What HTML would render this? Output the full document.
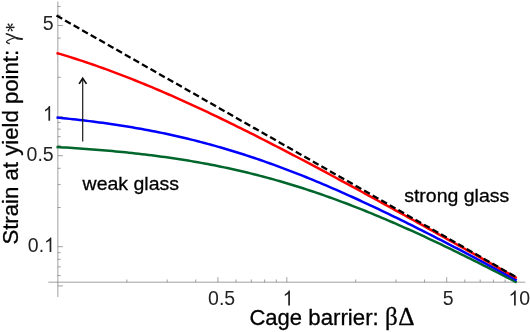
<!DOCTYPE html>
<html><head><meta charset="utf-8"><title>plot</title>
<style>html,body{margin:0;padding:0;background:#fff;}body{width:530px;height:332px;overflow:hidden;font-family:"Liberation Sans",sans-serif;}svg{display:block;will-change:transform;}text{font-family:"Liberation Sans",sans-serif;fill:#222;}.s{font-family:"Liberation Serif",serif;}.b{fill:#000;stroke:#000;stroke-width:0.3px;}</style>
</head><body>
<svg width="530" height="332" viewBox="0 0 530 332">
<g stroke="#666" stroke-width="0.62" fill="none">
<line x1="57.85" y1="1.5" x2="57.85" y2="297.0"/>
<line x1="48.3" y1="282.2" x2="525.3" y2="282.2"/>
<line x1="217.92" y1="277.2" x2="217.92" y2="282.2"/>
<line x1="286.80" y1="277.2" x2="286.80" y2="282.2"/>
<line x1="446.72" y1="277.2" x2="446.72" y2="282.2"/>
<line x1="515.60" y1="277.2" x2="515.60" y2="282.2"/>
<line x1="126.88" y1="279.5" x2="126.88" y2="282.2"/>
<line x1="167.17" y1="279.5" x2="167.17" y2="282.2"/>
<line x1="195.75" y1="279.5" x2="195.75" y2="282.2"/>
<line x1="236.04" y1="279.5" x2="236.04" y2="282.2"/>
<line x1="251.36" y1="279.5" x2="251.36" y2="282.2"/>
<line x1="264.63" y1="279.5" x2="264.63" y2="282.2"/>
<line x1="276.33" y1="279.5" x2="276.33" y2="282.2"/>
<line x1="355.68" y1="279.5" x2="355.68" y2="282.2"/>
<line x1="395.97" y1="279.5" x2="395.97" y2="282.2"/>
<line x1="424.55" y1="279.5" x2="424.55" y2="282.2"/>
<line x1="464.84" y1="279.5" x2="464.84" y2="282.2"/>
<line x1="480.16" y1="279.5" x2="480.16" y2="282.2"/>
<line x1="493.43" y1="279.5" x2="493.43" y2="282.2"/>
<line x1="505.13" y1="279.5" x2="505.13" y2="282.2"/>
<line x1="57.85" y1="25.49" x2="62.9" y2="25.49"/>
<line x1="57.85" y1="116.50" x2="62.9" y2="116.50"/>
<line x1="57.85" y1="155.69" x2="62.9" y2="155.69"/>
<line x1="57.85" y1="246.70" x2="62.9" y2="246.70"/>
<line x1="57.85" y1="285.89" x2="62.9" y2="285.89"/>
<line x1="57.85" y1="6.47" x2="60.7" y2="6.47"/>
<line x1="57.85" y1="15.18" x2="60.7" y2="15.18"/>
<line x1="57.85" y1="38.11" x2="60.7" y2="38.11"/>
<line x1="57.85" y1="54.38" x2="60.7" y2="54.38"/>
<line x1="57.85" y1="77.31" x2="60.7" y2="77.31"/>
<line x1="57.85" y1="122.46" x2="60.7" y2="122.46"/>
<line x1="57.85" y1="129.12" x2="60.7" y2="129.12"/>
<line x1="57.85" y1="136.67" x2="60.7" y2="136.67"/>
<line x1="57.85" y1="145.38" x2="60.7" y2="145.38"/>
<line x1="57.85" y1="168.31" x2="60.7" y2="168.31"/>
<line x1="57.85" y1="184.58" x2="60.7" y2="184.58"/>
<line x1="57.85" y1="207.51" x2="60.7" y2="207.51"/>
<line x1="57.85" y1="252.66" x2="60.7" y2="252.66"/>
<line x1="57.85" y1="259.32" x2="60.7" y2="259.32"/>
<line x1="57.85" y1="266.87" x2="60.7" y2="266.87"/>
<line x1="57.85" y1="275.58" x2="60.7" y2="275.58"/>
</g>
<g fill="none" stroke-width="2.5" stroke-linejoin="round">
<path d="M56.50,147.03 L59.79,147.21 L63.07,147.41 L66.36,147.61 L69.65,147.81 L72.94,148.02 L76.22,148.24 L79.51,148.46 L82.80,148.69 L86.08,148.93 L89.37,149.18 L92.66,149.43 L95.95,149.68 L99.23,149.95 L102.52,150.22 L105.81,150.50 L109.09,150.79 L112.38,151.09 L115.67,151.39 L118.96,151.71 L122.24,152.03 L125.53,152.36 L128.82,152.70 L132.10,153.05 L135.39,153.41 L138.68,153.78 L141.97,154.15 L145.25,154.54 L148.54,154.94 L151.83,155.35 L155.11,155.77 L158.40,156.20 L161.69,156.64 L164.98,157.09 L168.26,157.56 L171.55,158.03 L174.84,158.52 L178.12,159.02 L181.41,159.53 L184.70,160.05 L187.99,160.59 L191.27,161.14 L194.56,161.70 L197.85,162.28 L201.13,162.86 L204.42,163.47 L207.71,164.08 L211.00,164.71 L214.28,165.35 L217.57,166.01 L220.86,166.68 L224.14,167.36 L227.43,168.06 L230.72,168.78 L234.01,169.50 L237.29,170.25 L240.58,171.01 L243.87,171.78 L247.15,172.57 L250.44,173.37 L253.73,174.19 L257.02,175.02 L260.30,175.87 L263.59,176.73 L266.88,177.61 L270.16,178.51 L273.45,179.42 L276.74,180.34 L280.03,181.28 L283.31,182.24 L286.60,183.21 L289.89,184.20 L293.17,185.20 L296.46,186.22 L299.75,187.25 L303.04,188.30 L306.32,189.37 L309.61,190.44 L312.90,191.54 L316.18,192.65 L319.47,193.77 L322.76,194.91 L326.05,196.06 L329.33,197.23 L332.62,198.41 L335.91,199.61 L339.19,200.82 L342.48,202.05 L345.77,203.28 L349.06,204.54 L352.34,205.80 L355.63,207.08 L358.92,208.37 L362.20,209.68 L365.49,211.00 L368.78,212.33 L372.07,213.67 L375.35,215.03 L378.64,216.40 L381.93,217.78 L385.21,219.17 L388.50,220.58 L391.79,221.99 L395.08,223.42 L398.36,224.86 L401.65,226.31 L404.94,227.77 L408.22,229.24 L411.51,230.72 L414.80,232.21 L418.09,233.71 L421.37,235.22 L424.66,236.74 L427.95,238.27 L431.23,239.81 L434.52,241.36 L437.81,242.91 L441.10,244.48 L444.38,246.05 L447.67,247.63 L450.96,249.22 L454.24,250.82 L457.53,252.42 L460.82,254.03 L464.11,255.65 L467.39,257.28 L470.68,258.91 L473.97,260.55 L477.25,262.20 L480.54,263.85 L483.83,265.51 L487.12,267.18 L490.40,268.85 L493.69,270.52 L496.98,272.21 L500.26,273.90 L503.55,275.59 L506.84,277.29 L510.13,278.99 L513.41,280.70 L516.70,282.42" stroke="#00662c"/>
<path d="M56.50,117.57 L59.79,117.88 L63.07,118.20 L66.36,118.54 L69.65,118.88 L72.94,119.23 L76.22,119.59 L79.51,119.96 L82.80,120.34 L86.08,120.73 L89.37,121.12 L92.66,121.53 L95.95,121.96 L99.23,122.39 L102.52,122.83 L105.81,123.28 L109.09,123.75 L112.38,124.22 L115.67,124.71 L118.96,125.21 L122.24,125.73 L125.53,126.25 L128.82,126.79 L132.10,127.34 L135.39,127.90 L138.68,128.48 L141.97,129.07 L145.25,129.67 L148.54,130.29 L151.83,130.92 L155.11,131.56 L158.40,132.22 L161.69,132.89 L164.98,133.58 L168.26,134.28 L171.55,134.99 L174.84,135.72 L178.12,136.47 L181.41,137.23 L184.70,138.00 L187.99,138.79 L191.27,139.59 L194.56,140.41 L197.85,141.25 L201.13,142.10 L204.42,142.96 L207.71,143.84 L211.00,144.74 L214.28,145.65 L217.57,146.58 L220.86,147.52 L224.14,148.48 L227.43,149.45 L230.72,150.44 L234.01,151.45 L237.29,152.47 L240.58,153.50 L243.87,154.55 L247.15,155.62 L250.44,156.70 L253.73,157.79 L257.02,158.90 L260.30,160.03 L263.59,161.17 L266.88,162.32 L270.16,163.49 L273.45,164.68 L276.74,165.87 L280.03,167.09 L283.31,168.31 L286.60,169.55 L289.89,170.81 L293.17,172.07 L296.46,173.36 L299.75,174.65 L303.04,175.96 L306.32,177.28 L309.61,178.61 L312.90,179.96 L316.18,181.31 L319.47,182.68 L322.76,184.07 L326.05,185.46 L329.33,186.86 L332.62,188.28 L335.91,189.71 L339.19,191.15 L342.48,192.60 L345.77,194.06 L349.06,195.53 L352.34,197.01 L355.63,198.50 L358.92,200.01 L362.20,201.52 L365.49,203.04 L368.78,204.57 L372.07,206.11 L375.35,207.66 L378.64,209.21 L381.93,210.78 L385.21,212.35 L388.50,213.93 L391.79,215.52 L395.08,217.12 L398.36,218.73 L401.65,220.34 L404.94,221.96 L408.22,223.59 L411.51,225.22 L414.80,226.86 L418.09,228.51 L421.37,230.16 L424.66,231.82 L427.95,233.49 L431.23,235.16 L434.52,236.84 L437.81,238.52 L441.10,240.21 L444.38,241.91 L447.67,243.60 L450.96,245.31 L454.24,247.02 L457.53,248.73 L460.82,250.45 L464.11,252.18 L467.39,253.90 L470.68,255.64 L473.97,257.37 L477.25,259.11 L480.54,260.86 L483.83,262.61 L487.12,264.36 L490.40,266.11 L493.69,267.87 L496.98,269.63 L500.26,271.40 L503.55,273.17 L506.84,274.94 L510.13,276.72 L513.41,278.49 L516.70,280.28" stroke="#0000ff"/>
<path d="M56.50,52.94 L59.79,53.91 L63.07,54.90 L66.36,55.91 L69.65,56.93 L72.94,57.97 L76.22,59.02 L79.51,60.09 L82.80,61.17 L86.08,62.27 L89.37,63.38 L92.66,64.51 L95.95,65.66 L99.23,66.81 L102.52,67.98 L105.81,69.17 L109.09,70.37 L112.38,71.59 L115.67,72.81 L118.96,74.06 L122.24,75.31 L125.53,76.58 L128.82,77.87 L132.10,79.16 L135.39,80.47 L138.68,81.79 L141.97,83.13 L145.25,84.48 L148.54,85.84 L151.83,87.21 L155.11,88.59 L158.40,89.99 L161.69,91.40 L164.98,92.82 L168.26,94.25 L171.55,95.69 L174.84,97.14 L178.12,98.60 L181.41,100.07 L184.70,101.56 L187.99,103.05 L191.27,104.55 L194.56,106.07 L197.85,107.59 L201.13,109.12 L204.42,110.66 L207.71,112.21 L211.00,113.77 L214.28,115.34 L217.57,116.91 L220.86,118.50 L224.14,120.09 L227.43,121.69 L230.72,123.29 L234.01,124.91 L237.29,126.53 L240.58,128.16 L243.87,129.79 L247.15,131.43 L250.44,133.08 L253.73,134.74 L257.02,136.40 L260.30,138.06 L263.59,139.74 L266.88,141.42 L270.16,143.10 L273.45,144.79 L276.74,146.49 L280.03,148.19 L283.31,149.89 L286.60,151.60 L289.89,153.32 L293.17,155.04 L296.46,156.76 L299.75,158.49 L303.04,160.22 L306.32,161.96 L309.61,163.70 L312.90,165.45 L316.18,167.19 L319.47,168.95 L322.76,170.70 L326.05,172.46 L329.33,174.23 L332.62,175.99 L335.91,177.76 L339.19,179.53 L342.48,181.31 L345.77,183.09 L349.06,184.87 L352.34,186.65 L355.63,188.44 L358.92,190.23 L362.20,192.02 L365.49,193.82 L368.78,195.61 L372.07,197.41 L375.35,199.22 L378.64,201.02 L381.93,202.82 L385.21,204.63 L388.50,206.44 L391.79,208.25 L395.08,210.07 L398.36,211.88 L401.65,213.70 L404.94,215.52 L408.22,217.34 L411.51,219.16 L414.80,220.98 L418.09,222.81 L421.37,224.63 L424.66,226.46 L427.95,228.29 L431.23,230.12 L434.52,231.95 L437.81,233.79 L441.10,235.62 L444.38,237.46 L447.67,239.29 L450.96,241.13 L454.24,242.97 L457.53,244.81 L460.82,246.65 L464.11,248.49 L467.39,250.33 L470.68,252.18 L473.97,254.02 L477.25,255.86 L480.54,257.71 L483.83,259.56 L487.12,261.40 L490.40,263.25 L493.69,265.10 L496.98,266.95 L500.26,268.80 L503.55,270.65 L506.84,272.50 L510.13,274.36 L513.41,276.21 L516.70,278.06" stroke="#ff0000"/>
<path d="M56.50,15.55 L516.70,277.40" stroke="#000" stroke-width="2.3" stroke-dasharray="6.55,3.282"/>
</g>
<line x1="82.7" y1="79" x2="82.7" y2="141.6" stroke="#1a1a1a" stroke-width="1.2"/>
<path d="M79.1,83.9 L82.7,78.2 L86.5,83.9" fill="none" stroke="#111" stroke-width="1.7" stroke-linejoin="miter"/>
<g font-size="19.5">
<text transform="translate(221.60,305.45) scale(1,1.070)" text-anchor="middle">0.5</text>
<path d="M763,0 L583,0 L583,1147 Q518,1085 412.5,1023 Q307,961 223,930 L223,1104 Q374,1175 487,1276 Q600,1377 647,1472 L763,1472 Z" transform="translate(282.68,305.45) scale(0.00952,-0.01019)" fill="#222"/>
<text transform="translate(448.10,305.45) scale(1,1.070)" text-anchor="middle">5</text>
<path d="M763,0 L583,0 L583,1147 Q518,1085 412.5,1023 Q307,961 223,930 L223,1104 Q374,1175 487,1276 Q600,1377 647,1472 L763,1472 Z" transform="translate(508.50,305.45) scale(0.00952,-0.01019)" fill="#222"/>
<text transform="translate(519.34,305.45) scale(1,1.070)" text-anchor="start">0</text>
<text transform="translate(53.70,29.59) scale(1,1.050)" text-anchor="end">5</text>
<path d="M763,0 L583,0 L583,1147 Q518,1085 412.5,1023 Q307,961 223,930 L223,1104 Q374,1175 487,1276 Q600,1377 647,1472 L763,1472 Z" transform="translate(42.86,120.70) scale(0.00952,-0.01000)" fill="#222"/>
<text transform="translate(53.70,160.79) scale(1,1.050)" text-anchor="end">0.5</text>
<path d="M763,0 L583,0 L583,1147 Q518,1085 412.5,1023 Q307,961 223,930 L223,1104 Q374,1175 487,1276 Q600,1377 647,1472 L763,1472 Z" transform="translate(44.06,252.10) scale(0.00952,-0.01000)" fill="#222"/>
<text transform="translate(44.06,252.10) scale(1,1.050)" text-anchor="end">0.</text>
</g>
<text transform="translate(82.6,189.9) scale(1,0.950)" font-size="19.5" class="b">weak glass</text>
<text transform="translate(404.2,202.1) scale(1,0.950)" font-size="19.5" class="b">strong glass</text>
<text x="249.4" y="324.7" font-size="22" class="b">Cage</text>
<text x="308.3" y="324.8" font-size="22.25" class="b">barrier:</text>
<text x="385.1" y="324.8" font-size="25" class="s b">β</text>
<text x="398.3" y="324.8" font-size="25.3" class="s b">Δ</text>
<text transform="translate(17.5,244.6) rotate(-90)" font-size="22.18" class="b">Strain at yield point:</text>
<g fill="none" stroke="#222" stroke-linecap="round" stroke-linejoin="round">
<path d="M6.4,33.8 Q10.5,35.2 13.7,36.8 Q16.2,38 17.7,38.4" stroke-width="1.6"/>
<path d="M16.8,38.2 Q19.6,38.9 22.0,39.0" stroke-width="2.2"/>
<path d="M15.4,37.5 Q10.6,38.9 7.8,40.4 Q6.2,41.4 6.7,42.3" stroke-width="1.1"/>
<path d="M6.7,42.1 Q7.4,43.2 9.2,43.4" stroke-width="1.5"/>
</g>
<path d="M10.50,27.72 L13.85,28.20 A0.80,0.80 0 0 0 13.85,26.60 L10.50,27.08 Z M10.07,27.82 L11.33,30.96 A0.80,0.80 0 0 0 12.72,30.16 L10.63,27.50 Z M9.77,27.50 L7.68,30.16 A0.80,0.80 0 0 0 9.07,30.96 L10.33,27.82 Z M9.90,27.08 L6.55,26.60 A0.80,0.80 0 0 0 6.55,28.20 L9.90,27.72 Z M10.33,26.98 L9.07,23.84 A0.80,0.80 0 0 0 7.68,24.64 L9.77,27.30 Z M10.63,27.30 L12.72,24.64 A0.80,0.80 0 0 0 11.33,23.84 L10.07,26.98 Z" fill="#222"/>
<circle cx="10.20" cy="27.40" r="0.7" fill="#222"/>
</svg>
</body></html>
